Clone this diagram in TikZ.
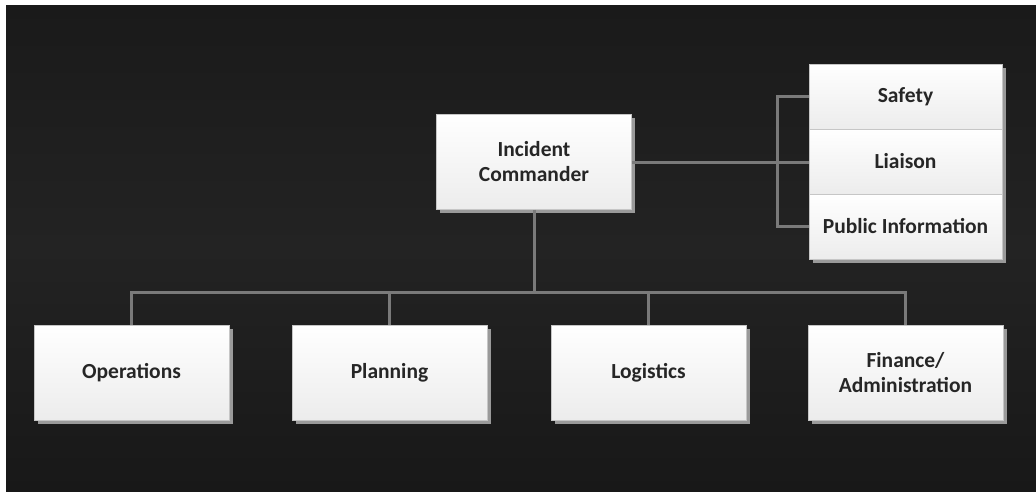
\documentclass[tikz,border=0pt]{standalone}
\usepackage{fontspec}
\setmainfont{Carlito}
\usetikzlibrary{shadows}
\definecolor{bgtop}{HTML}{1A1A1A}
\definecolor{bgmid}{HTML}{232323}
\definecolor{bgbot}{HTML}{181818}
\definecolor{linkgray}{HTML}{7A7A7A}
\definecolor{boxbot}{HTML}{ECECEC}
\definecolor{shadegray}{HTML}{9A9A9A}
\tikzset{
  rolebox/.style={draw=gray!45, line width=0.8pt, top color=white, bottom color=boxbot,
    minimum width=195pt, minimum height=95pt, align=center, inner sep=2pt,
    font=\fontsize{21.5}{25}\selectfont\bfseries, text=black!85,
    drop shadow={shadow xshift=3.5pt, shadow yshift=-3.5pt, fill=shadegray, opacity=1}},
  cellbox/.style={rolebox, minimum width=193pt, minimum height=65pt},
  link/.style={draw=linkgray, line width=3pt},
}

\begin{document}
\begin{tikzpicture}[x=1pt, y=-1pt]

  %% ---- page and dark backdrop ----
  \useasboundingbox (0,0) rectangle (1036,491);
  \fill[top color=bgtop, bottom color=bgbot, middle color=bgmid] (6,5) rectangle (1036,491);

  %% ---- branch points ----
  \coordinate (brk) at (777,162);
  \coordinate (bus) at (534,292);

  %% ---- top level ----
  \node[rolebox] (ic) at (534,162) {Incident\\Commander};

  %% ---- command staff stack ----
  \node[cellbox] (safety) at (905.5,96.5) {Safety};
  \node[cellbox] (liaison) at (905.5,161.5) {Liaison};
  \node[cellbox] (pio) at (905.5,226.5) {Public Information};

  %% ---- general staff ----
  \node[rolebox] (ops) at (131.5,372.5) {Operations};
  \node[rolebox] (plan) at (389.5,372.5) {Planning};
  \node[rolebox] (logi) at (648.5,372.5) {Logistics};
  \node[rolebox] (fin) at (905.5,372.5) {Finance/\\Administration};

  %% ---- links ----
  \draw[link] (ic.east) -- (ic.east -| liaison.west);
  \draw[link] (safety.west) -| (brk) |- (pio.west);
  \draw[link] (ic.south) -- (bus);
  \draw[link] (bus) -| (ops.north);
  \draw[link] (bus) -| (plan.north);
  \draw[link] (bus) -| (logi.north);
  \draw[link] (bus) -| (fin.north);

\end{tikzpicture}
\end{document}
